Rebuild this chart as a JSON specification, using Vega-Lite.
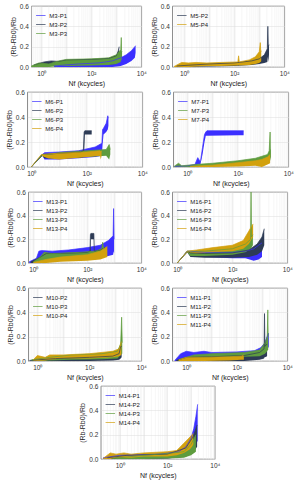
{
"$schema":"https://vega.github.io/schema/vega-lite/v6.json",
"padding":{"left":4,"top":2,"right":2,"bottom":2},
"background":"white",
"config":{
 "font":"Liberation Sans",
 "view":{"stroke":"#5a5a5a","strokeWidth":0.7},
 "axis":{"labelFont":"Liberation Sans","titleFont":"Liberation Sans","labelFontSize":6.5,"titleFontSize":7,"titleFontWeight":"normal","labelColor":"#333","titleColor":"#222","domain":false,"ticks":false,"labelPadding":3,"titlePadding":3,"gridColor":"#dcdcdc","gridWidth":0.5,"labelOverlap":false,"labelFlush":false},
 "legend":{"labelFontSize":6,"labelFont":"Liberation Sans","labelColor":"#222","symbolSize":90,"symbolStrokeWidth":1.2},
 "area":{"opacity":1,"fillOpacity":1},
 "line":{"strokeWidth":0.7}
},
"center":true,
"spacing":1,
"vconcat":[
{"hconcat":[
 {"width":110,"height":61,
  "data":{"values":[
   {"s":"M3-P1","x":3.2,"l":0,"h":0.01},{"s":"M3-P1","x":30,"l":0,"h":0.03},{"s":"M3-P1","x":200,"l":0,"h":0.04},{"s":"M3-P1","x":700,"l":0,"h":0.06},{"s":"M3-P1","x":1500,"l":0.01,"h":0.09},{"s":"M3-P1","x":2500,"l":0.03,"h":0.12},{"s":"M3-P1","x":4000,"l":0.06,"h":0.16},{"s":"M3-P1","x":5500,"l":0.09,"h":0.2},{"s":"M3-P1","x":5900,"l":0.14,"h":0.21},
   {"s":"M3-P2","x":0.5,"l":0,"h":0.02},{"s":"M3-P2","x":1.3,"l":0,"h":0.05},{"s":"M3-P2","x":2.5,"l":0.01,"h":0.06},{"s":"M3-P2","x":5,"l":0.01,"h":0.055},{"s":"M3-P2","x":10,"l":0.02,"h":0.07},{"s":"M3-P2","x":100,"l":0.02,"h":0.075},{"s":"M3-P2","x":500,"l":0.025,"h":0.085},{"s":"M3-P2","x":1000,"l":0.03,"h":0.11},{"s":"M3-P2","x":1200,"l":0.05,"h":0.16},{"s":"M3-P2","x":1300,"l":0.08,"h":0.2},
   {"s":"M3-P3","x":0.4,"l":0,"h":0.01},{"s":"M3-P3","x":0.8,"l":0,"h":0.04},{"s":"M3-P3","x":2,"l":0,"h":0.03},{"s":"M3-P3","x":5,"l":0.01,"h":0.06},{"s":"M3-P3","x":10,"l":0.01,"h":0.075},{"s":"M3-P3","x":100,"l":0.015,"h":0.08},{"s":"M3-P3","x":500,"l":0.02,"h":0.09},{"s":"M3-P3","x":1000,"l":0.03,"h":0.12},{"s":"M3-P3","x":1500,"l":0.05,"h":0.17},{"s":"M3-P3","x":1580,"l":0.1,"h":0.29},{"s":"M3-P3","x":1620,"l":0.06,"h":0.16},{"s":"M3-P3","x":1700,"l":0.08,"h":0.15}
  ]},
  "encoding":{"x":{"field":"x","type":"quantitative","scale":{"type":"log","domain":[0.4,10000],"nice":false},"axis":{"title":"Nf (kcycles)","values":[0.4,0.5,0.6,0.7,0.8,0.9,1,2,3,4,5,6,7,8,9,10,20,30,40,50,60,70,80,90,100,200,300,400,500,600,700,800,900,1000,2000,3000,4000,5000,6000,7000,8000,9000,10000],"labelExpr":"datum.value==1?'10⁰':datum.value==100?'10²':datum.value==10000?'10⁴':''","gridColor":{"condition":{"test":"indexof([1,10,100,1000,10000],datum.value)>=0","value":"#d4d4d4"},"value":"#ececec"}}}},
  "layer":[
   {"mark":"area","encoding":{"y":{"field":"l","type":"quantitative","scale":{"domain":[0,0.6],"nice":false},"axis":{"title":"(Rb-Rb0)/Rb","values":[0,0.2,0.4,0.6]}},"y2":{"field":"h"},
     "fill":{"field":"s","type":"nominal","scale":{"range":["#3b2fff","#2d3b55","#5e9c3e"]},"legend":null}}},
   {"mark":"line","encoding":{"y":{"field":"h","type":"quantitative","scale":{"domain":[0,0.6],"nice":false},"axis":{"title":"(Rb-Rb0)/Rb","values":[0,0.2,0.4,0.6]}},
     "color":{"field":"s","type":"nominal","scale":{"domain":["M3-P1","M3-P2","M3-P3"],"range":["#3b2fff","#2d3b55","#5e9c3e"]},"legend":{"title":null,"orient":"top-left","offset":3,"padding":1,"rowPadding":0,"symbolType":"stroke","labelOffset":3}}}}
  ]},
 {"width":112,"height":61,
  "data":{"values":[
   {"s":"M5-P2","x":0.5,"l":0,"h":0.01},{"s":"M5-P2","x":10,"l":0.005,"h":0.03},{"s":"M5-P2","x":100,"l":0.01,"h":0.04},{"s":"M5-P2","x":500,"l":0.02,"h":0.06},{"s":"M5-P2","x":1000,"l":0.03,"h":0.08},{"s":"M5-P2","x":1600,"l":0.04,"h":0.12},{"s":"M5-P2","x":2100,"l":0.05,"h":0.18},{"s":"M5-P2","x":2200,"l":0.1,"h":0.4},{"s":"M5-P2","x":2300,"l":0.05,"h":0.2},{"s":"M5-P2","x":2450,"l":0.12,"h":0.22},
   {"s":"M5-P4","x":0.4,"l":0,"h":0.005},{"s":"M5-P4","x":0.8,"l":0,"h":0.045},{"s":"M5-P4","x":1.5,"l":0,"h":0.04},{"s":"M5-P4","x":3,"l":0.005,"h":0.045},{"s":"M5-P4","x":8,"l":0.01,"h":0.04},{"s":"M5-P4","x":30,"l":0.01,"h":0.045},{"s":"M5-P4","x":140,"l":0.015,"h":0.05},{"s":"M5-P4","x":150,"l":0.02,"h":0.11},{"s":"M5-P4","x":160,"l":0.015,"h":0.05},{"s":"M5-P4","x":400,"l":0.02,"h":0.07},{"s":"M5-P4","x":700,"l":0.03,"h":0.1},{"s":"M5-P4","x":1000,"l":0.04,"h":0.15},{"s":"M5-P4","x":1100,"l":0.05,"h":0.24},{"s":"M5-P4","x":1150,"l":0.05,"h":0.15},{"s":"M5-P4","x":1200,"l":0.06,"h":0.16}
  ]},
  "encoding":{"x":{"field":"x","type":"quantitative","scale":{"type":"log","domain":[0.34,10000],"nice":false},"axis":{"title":"Nf (kcycles)","values":[0.4,0.5,0.6,0.7,0.8,0.9,1,2,3,4,5,6,7,8,9,10,20,30,40,50,60,70,80,90,100,200,300,400,500,600,700,800,900,1000,2000,3000,4000,5000,6000,7000,8000,9000,10000],"labelExpr":"datum.value==1?'10⁰':datum.value==100?'10²':datum.value==10000?'10⁴':''","gridColor":{"condition":{"test":"indexof([1,10,100,1000,10000],datum.value)>=0","value":"#d4d4d4"},"value":"#ececec"}}}},
  "layer":[
   {"mark":"area","encoding":{"y":{"field":"l","type":"quantitative","scale":{"domain":[0,0.6],"nice":false},"axis":{"title":"(Rb-Rb0)/Rb","values":[0,0.2,0.4,0.6]}},"y2":{"field":"h"},
     "fill":{"field":"s","type":"nominal","scale":{"range":["#2d3b55","#d2a10e"]},"legend":null}}},
   {"mark":"line","encoding":{"y":{"field":"h","type":"quantitative","scale":{"domain":[0,0.6],"nice":false},"axis":{"title":"(Rb-Rb0)/Rb","values":[0,0.2,0.4,0.6]}},
     "color":{"field":"s","type":"nominal","scale":{"domain":["M5-P2","M5-P4"],"range":["#2d3b55","#d2a10e"]},"legend":{"title":null,"orient":"top-left","offset":3,"padding":1,"rowPadding":0,"symbolType":"stroke","labelOffset":3}}}}
  ]}
 ],"spacing":2,"resolve":{"scale":{"fill":"independent","color":"independent"},"legend":{"color":"independent"}}},
{"hconcat":[
 {"width":115,"height":75,
  "data":{"values":[
   {"s":"M6-P1","x":1,"l":0,"h":0},{"s":"M6-P1","x":2.5,"l":0.09,"h":0.1},{"s":"M6-P1","x":3,"l":0.06,"h":0.115},{"s":"M6-P1","x":10,"l":0.06,"h":0.12},{"s":"M6-P1","x":50,"l":0.07,"h":0.13},{"s":"M6-P1","x":200,"l":0.08,"h":0.16},{"s":"M6-P1","x":350,"l":0.09,"h":0.19},{"s":"M6-P1","x":370,"l":0.18,"h":0.3},{"s":"M6-P1","x":400,"l":0.26,"h":0.31},{"s":"M6-P1","x":500,"l":0.28,"h":0.35},{"s":"M6-P1","x":570,"l":0.3,"h":0.41},{"s":"M6-P1","x":600,"l":0.33,"h":0.39},
   {"s":"M6-P2","x":1,"l":0,"h":0},{"s":"M6-P2","x":2.5,"l":0.09,"h":0.1},{"s":"M6-P2","x":3,"l":0.07,"h":0.1},{"s":"M6-P2","x":10,"l":0.07,"h":0.11},{"s":"M6-P2","x":60,"l":0.075,"h":0.12},{"s":"M6-P2","x":75,"l":0.08,"h":0.13},{"s":"M6-P2","x":80,"l":0.1,"h":0.28},{"s":"M6-P2","x":85,"l":0.26,"h":0.29},{"s":"M6-P2","x":130,"l":0.26,"h":0.29},{"s":"M6-P2","x":150,"l":0.26,"h":0.29},
   {"s":"M6-P3","x":1,"l":0,"h":0},{"s":"M6-P3","x":2.5,"l":0.09,"h":0.1},{"s":"M6-P3","x":4,"l":0.07,"h":0.1},{"s":"M6-P3","x":10,"l":0.07,"h":0.115},{"s":"M6-P3","x":100,"l":0.08,"h":0.13},{"s":"M6-P3","x":500,"l":0.09,"h":0.14},{"s":"M6-P3","x":640,"l":0.06,"h":0.18},{"s":"M6-P3","x":700,"l":0.1,"h":0.14},
   {"s":"M6-P4","x":1,"l":0,"h":0},{"s":"M6-P4","x":2.3,"l":0.09,"h":0.1},{"s":"M6-P4","x":4,"l":0.07,"h":0.105},{"s":"M6-P4","x":10,"l":0.06,"h":0.11},{"s":"M6-P4","x":100,"l":0.08,"h":0.12},{"s":"M6-P4","x":300,"l":0.09,"h":0.13},{"s":"M6-P4","x":320,"l":0.06,"h":0.12},{"s":"M6-P4","x":340,"l":0.09,"h":0.13}
  ]},
  "encoding":{"x":{"field":"x","type":"quantitative","scale":{"type":"log","domain":[0.72,10000],"nice":false},"axis":{"title":"Nf (kcycles)","values":[0.8,0.9,1,2,3,4,5,6,7,8,9,10,20,30,40,50,60,70,80,90,100,200,300,400,500,600,700,800,900,1000,2000,3000,4000,5000,6000,7000,8000,9000,10000],"labelExpr":"datum.value==1?'10⁰':datum.value==100?'10²':datum.value==10000?'10⁴':''","gridColor":{"condition":{"test":"indexof([1,10,100,1000,10000],datum.value)>=0","value":"#d4d4d4"},"value":"#ececec"}}}},
  "layer":[
   {"mark":"area","encoding":{"y":{"field":"l","type":"quantitative","scale":{"domain":[0,0.6],"nice":false},"axis":{"title":"(Rb-Rb0)/Rb","values":[0,0.2,0.4,0.6]}},"y2":{"field":"h"},
     "fill":{"field":"s","type":"nominal","scale":{"range":["#3b2fff","#2d3b55","#5e9c3e","#d2a10e"]},"legend":null}}},
   {"mark":"line","encoding":{"y":{"field":"h","type":"quantitative","scale":{"domain":[0,0.6],"nice":false},"axis":{"title":"(Rb-Rb0)/Rb","values":[0,0.2,0.4,0.6]}},
     "color":{"field":"s","type":"nominal","scale":{"domain":["M6-P1","M6-P2","M6-P3","M6-P4"],"range":["#3b2fff","#2d3b55","#5e9c3e","#d2a10e"]},"legend":{"title":null,"orient":"top-left","offset":3,"padding":1,"rowPadding":0,"symbolType":"stroke","labelOffset":3}}}}
  ]},
 {"width":115,"height":75,
  "data":{"values":[
   {"s":"M7-P1","x":0.32,"l":0,"h":0.005},{"s":"M7-P1","x":1,"l":0,"h":0.01},{"s":"M7-P1","x":2,"l":0.005,"h":0.02},{"s":"M7-P1","x":2.6,"l":0.02,"h":0.075},{"s":"M7-P1","x":3.3,"l":0.02,"h":0.04},{"s":"M7-P1","x":4,"l":0.1,"h":0.155},{"s":"M7-P1","x":4.8,"l":0.2,"h":0.26},{"s":"M7-P1","x":5.4,"l":0.25,"h":0.28},{"s":"M7-P1","x":6,"l":0.25,"h":0.29},{"s":"M7-P1","x":100,"l":0.255,"h":0.29},{"s":"M7-P1","x":170,"l":0.255,"h":0.29},
   {"s":"M7-P3","x":0.3,"l":0,"h":0.005},{"s":"M7-P3","x":0.45,"l":0,"h":0.03},{"s":"M7-P3","x":0.6,"l":0,"h":0.01},{"s":"M7-P3","x":2,"l":0,"h":0.02},{"s":"M7-P3","x":10,"l":0.005,"h":0.03},{"s":"M7-P3","x":100,"l":0.01,"h":0.05},{"s":"M7-P3","x":500,"l":0.02,"h":0.07},{"s":"M7-P3","x":1500,"l":0.04,"h":0.1},{"s":"M7-P3","x":1750,"l":0.05,"h":0.13},{"s":"M7-P3","x":1900,"l":0.05,"h":0.28},{"s":"M7-P3","x":1950,"l":0.06,"h":0.14},{"s":"M7-P3","x":2050,"l":0.08,"h":0.14},
   {"s":"M7-P4","x":1.3,"l":0,"h":0.005},{"s":"M7-P4","x":10,"l":0,"h":0.015},{"s":"M7-P4","x":100,"l":0.005,"h":0.035},{"s":"M7-P4","x":500,"l":0.01,"h":0.05},{"s":"M7-P4","x":900,"l":0,"h":0.06},{"s":"M7-P4","x":1500,"l":0.02,"h":0.08},{"s":"M7-P4","x":1900,"l":0.03,"h":0.1}
  ]},
  "encoding":{"x":{"field":"x","type":"quantitative","scale":{"type":"log","domain":[0.28,10000],"nice":false},"axis":{"title":"Nf (kcycles)","values":[0.3,0.4,0.5,0.6,0.7,0.8,0.9,1,2,3,4,5,6,7,8,9,10,20,30,40,50,60,70,80,90,100,200,300,400,500,600,700,800,900,1000,2000,3000,4000,5000,6000,7000,8000,9000,10000],"labelExpr":"datum.value==1?'10⁰':datum.value==100?'10²':datum.value==10000?'10⁴':''","gridColor":{"condition":{"test":"indexof([1,10,100,1000,10000],datum.value)>=0","value":"#d4d4d4"},"value":"#ececec"}}}},
  "layer":[
   {"mark":"area","encoding":{"y":{"field":"l","type":"quantitative","scale":{"domain":[0,0.6],"nice":false},"axis":{"title":"(Rb-Rb0)/Rb","values":[0,0.2,0.4,0.6]}},"y2":{"field":"h"},
     "fill":{"field":"s","type":"nominal","scale":{"range":["#3b2fff","#5e9c3e","#d2a10e"]},"legend":null}}},
   {"mark":"line","encoding":{"y":{"field":"h","type":"quantitative","scale":{"domain":[0,0.6],"nice":false},"axis":{"title":"(Rb-Rb0)/Rb","values":[0,0.2,0.4,0.6]}},
     "color":{"field":"s","type":"nominal","scale":{"domain":["M7-P1","M7-P3","M7-P4"],"range":["#3b2fff","#5e9c3e","#d2a10e"]},"legend":{"title":null,"orient":"top-left","offset":3,"padding":1,"rowPadding":0,"symbolType":"stroke","labelOffset":3}}}}
  ]}
 ],"spacing":2,"resolve":{"scale":{"fill":"independent","color":"independent"},"legend":{"color":"independent"}}},
{"hconcat":[
 {"width":113,"height":71,
  "data":{"values":[
   {"s":"M13-P1","x":0.7,"l":0,"h":0.01},{"s":"M13-P1","x":1.3,"l":0,"h":0.04},{"s":"M13-P1","x":1.6,"l":0.02,"h":0.1},{"s":"M13-P1","x":2,"l":0.03,"h":0.105},{"s":"M13-P1","x":5,"l":0.04,"h":0.1},{"s":"M13-P1","x":20,"l":0.04,"h":0.11},{"s":"M13-P1","x":100,"l":0.045,"h":0.13},{"s":"M13-P1","x":300,"l":0.05,"h":0.15},{"s":"M13-P1","x":600,"l":0.06,"h":0.19},{"s":"M13-P1","x":900,"l":0.07,"h":0.23},{"s":"M13-P1","x":940,"l":0.1,"h":0.46},{"s":"M13-P1","x":980,"l":0.08,"h":0.2},
   {"s":"M13-P2","x":0.8,"l":0,"h":0.01},{"s":"M13-P2","x":1.5,"l":0,"h":0.04},{"s":"M13-P2","x":3,"l":0.02,"h":0.08},{"s":"M13-P2","x":10,"l":0.03,"h":0.08},{"s":"M13-P2","x":100,"l":0.035,"h":0.09},{"s":"M13-P2","x":125,"l":0.04,"h":0.1},{"s":"M13-P2","x":130,"l":0.05,"h":0.24},{"s":"M13-P2","x":135,"l":0.2,"h":0.25},{"s":"M13-P2","x":175,"l":0.2,"h":0.25},{"s":"M13-P2","x":180,"l":0.04,"h":0.1},{"s":"M13-P2","x":300,"l":0.05,"h":0.11},{"s":"M13-P2","x":450,"l":0.06,"h":0.13},
   {"s":"M13-P3","x":1,"l":0,"h":0.01},{"s":"M13-P3","x":1.8,"l":0,"h":0.05},{"s":"M13-P3","x":2.5,"l":0.02,"h":0.09},{"s":"M13-P3","x":5,"l":0.03,"h":0.08},{"s":"M13-P3","x":50,"l":0.03,"h":0.09},{"s":"M13-P3","x":200,"l":0.04,"h":0.1},{"s":"M13-P3","x":340,"l":0.04,"h":0.12},{"s":"M13-P3","x":370,"l":0.05,"h":0.175},{"s":"M13-P3","x":400,"l":0.05,"h":0.12},{"s":"M13-P3","x":480,"l":0.06,"h":0.13},
   {"s":"M13-P4","x":1,"l":0,"h":0.005},{"s":"M13-P4","x":3,"l":0,"h":0.03},{"s":"M13-P4","x":10,"l":0.01,"h":0.05},{"s":"M13-P4","x":100,"l":0.02,"h":0.07},{"s":"M13-P4","x":300,"l":0.03,"h":0.1},{"s":"M13-P4","x":550,"l":0.05,"h":0.14}
  ]},
  "encoding":{"x":{"field":"x","type":"quantitative","scale":{"type":"log","domain":[0.65,10000],"nice":false},"axis":{"title":"Nf (kcycles)","values":[0.7,0.8,0.9,1,2,3,4,5,6,7,8,9,10,20,30,40,50,60,70,80,90,100,200,300,400,500,600,700,800,900,1000,2000,3000,4000,5000,6000,7000,8000,9000,10000],"labelExpr":"datum.value==1?'10⁰':datum.value==100?'10²':datum.value==10000?'10⁴':''","gridColor":{"condition":{"test":"indexof([1,10,100,1000,10000],datum.value)>=0","value":"#d4d4d4"},"value":"#ececec"}}}},
  "layer":[
   {"mark":"area","encoding":{"y":{"field":"l","type":"quantitative","scale":{"domain":[0,0.6],"nice":false},"axis":{"title":"(Rb-Rb0)/Rb","values":[0,0.2,0.4,0.6]}},"y2":{"field":"h"},
     "fill":{"field":"s","type":"nominal","scale":{"range":["#3b2fff","#2d3b55","#5e9c3e","#d2a10e"]},"legend":null}}},
   {"mark":"line","encoding":{"y":{"field":"h","type":"quantitative","scale":{"domain":[0,0.6],"nice":false},"axis":{"title":"(Rb-Rb0)/Rb","values":[0,0.2,0.4,0.6]}},
     "color":{"field":"s","type":"nominal","scale":{"domain":["M13-P1","M13-P2","M13-P3","M13-P4"],"range":["#3b2fff","#2d3b55","#5e9c3e","#d2a10e"]},"legend":{"title":null,"orient":"top-left","offset":3,"padding":1,"rowPadding":0,"symbolType":"stroke","labelOffset":3}}}}
  ]},
 {"width":115,"height":71,
  "data":{"values":[
   {"s":"M16-P1","x":1,"l":0,"h":0},{"s":"M16-P1","x":2.3,"l":0.09,"h":0.1},{"s":"M16-P1","x":3,"l":0.06,"h":0.1},{"s":"M16-P1","x":10,"l":0.05,"h":0.09},{"s":"M16-P1","x":100,"l":0.04,"h":0.09},{"s":"M16-P1","x":300,"l":0.04,"h":0.1},{"s":"M16-P1","x":600,"l":0.02,"h":0.12},{"s":"M16-P1","x":900,"l":0.03,"h":0.15},{"s":"M16-P1","x":1200,"l":0.05,"h":0.17},
   {"s":"M16-P2","x":1,"l":0,"h":0},{"s":"M16-P2","x":2.3,"l":0.09,"h":0.1},{"s":"M16-P2","x":3,"l":0.05,"h":0.085},{"s":"M16-P2","x":10,"l":0.045,"h":0.08},{"s":"M16-P2","x":100,"l":0.045,"h":0.085},{"s":"M16-P2","x":400,"l":0.05,"h":0.11},{"s":"M16-P2","x":800,"l":0.07,"h":0.16},{"s":"M16-P2","x":1200,"l":0.1,"h":0.22},{"s":"M16-P2","x":1450,"l":0.15,"h":0.29},
   {"s":"M16-P3","x":1,"l":0,"h":0},{"s":"M16-P3","x":2.3,"l":0.09,"h":0.1},{"s":"M16-P3","x":3,"l":0.06,"h":0.1},{"s":"M16-P3","x":10,"l":0.06,"h":0.1},{"s":"M16-P3","x":100,"l":0.07,"h":0.12},{"s":"M16-P3","x":300,"l":0.09,"h":0.16},{"s":"M16-P3","x":460,"l":0.12,"h":0.2},{"s":"M16-P3","x":480,"l":0.12,"h":0.6},{"s":"M16-P3","x":500,"l":0.13,"h":0.22},{"s":"M16-P3","x":560,"l":0.15,"h":0.24},
   {"s":"M16-P4","x":1,"l":0,"h":0},{"s":"M16-P4","x":2.3,"l":0.09,"h":0.1},{"s":"M16-P4","x":5,"l":0.08,"h":0.11},{"s":"M16-P4","x":20,"l":0.09,"h":0.13},{"s":"M16-P4","x":100,"l":0.1,"h":0.15},{"s":"M16-P4","x":250,"l":0.12,"h":0.19},{"s":"M16-P4","x":400,"l":0.16,"h":0.27},{"s":"M16-P4","x":500,"l":0.2,"h":0.31},{"s":"M16-P4","x":570,"l":0.22,"h":0.33}
  ]},
  "encoding":{"x":{"field":"x","type":"quantitative","scale":{"type":"log","domain":[0.66,10000],"nice":false},"axis":{"title":"Nf (kcycles)","values":[0.7,0.8,0.9,1,2,3,4,5,6,7,8,9,10,20,30,40,50,60,70,80,90,100,200,300,400,500,600,700,800,900,1000,2000,3000,4000,5000,6000,7000,8000,9000,10000],"labelExpr":"datum.value==1?'10⁰':datum.value==100?'10²':datum.value==10000?'10⁴':''","gridColor":{"condition":{"test":"indexof([1,10,100,1000,10000],datum.value)>=0","value":"#d4d4d4"},"value":"#ececec"}}}},
  "layer":[
   {"mark":"area","encoding":{"y":{"field":"l","type":"quantitative","scale":{"domain":[0,0.6],"nice":false},"axis":{"title":"(Rb-Rb0)/Rb","values":[0,0.2,0.4,0.6]}},"y2":{"field":"h"},
     "fill":{"field":"s","type":"nominal","scale":{"range":["#3b2fff","#2d3b55","#5e9c3e","#d2a10e"]},"legend":null}}},
   {"mark":"line","encoding":{"y":{"field":"h","type":"quantitative","scale":{"domain":[0,0.6],"nice":false},"axis":{"title":"(Rb-Rb0)/Rb","values":[0,0.2,0.4,0.6]}},
     "color":{"field":"s","type":"nominal","scale":{"domain":["M16-P1","M16-P2","M16-P3","M16-P4"],"range":["#3b2fff","#2d3b55","#5e9c3e","#d2a10e"]},"legend":{"title":null,"orient":"top-left","offset":3,"padding":1,"rowPadding":0,"symbolType":"stroke","labelOffset":3}}}}
  ]}
 ],"spacing":2,"resolve":{"scale":{"fill":"independent","color":"independent"},"legend":{"color":"independent"}}},
{"hconcat":[
 {"width":113,"height":73,
  "data":{"values":[
   {"s":"M10-P2","x":0.5,"l":0,"h":0.005},{"s":"M10-P2","x":5,"l":0,"h":0.02},{"s":"M10-P2","x":100,"l":0,"h":0.03},{"s":"M10-P2","x":800,"l":0.005,"h":0.04},{"s":"M10-P2","x":1400,"l":0.01,"h":0.06},{"s":"M10-P2","x":1600,"l":0.02,"h":0.12},{"s":"M10-P2","x":1750,"l":0.03,"h":0.12},
   {"s":"M10-P3","x":0.6,"l":0,"h":0.01},{"s":"M10-P3","x":3,"l":0.005,"h":0.03},{"s":"M10-P3","x":20,"l":0.01,"h":0.05},{"s":"M10-P3","x":300,"l":0.015,"h":0.06},{"s":"M10-P3","x":1200,"l":0.02,"h":0.08},{"s":"M10-P3","x":1600,"l":0.05,"h":0.14},{"s":"M10-P3","x":1750,"l":0.06,"h":0.36},{"s":"M10-P3","x":1850,"l":0.06,"h":0.15},
   {"s":"M10-P4","x":0.7,"l":0,"h":0.01},{"s":"M10-P4","x":1,"l":0,"h":0.045},{"s":"M10-P4","x":2,"l":0.005,"h":0.03},{"s":"M10-P4","x":3,"l":0.01,"h":0.05},{"s":"M10-P4","x":10,"l":0.02,"h":0.05},{"s":"M10-P4","x":100,"l":0.02,"h":0.06},{"s":"M10-P4","x":800,"l":0.03,"h":0.08},{"s":"M10-P4","x":1400,"l":0.04,"h":0.1},{"s":"M10-P4","x":1700,"l":0.05,"h":0.16}
  ]},
  "encoding":{"x":{"field":"x","type":"quantitative","scale":{"type":"log","domain":[0.45,10000],"nice":false},"axis":{"title":"Nf (kcycles)","values":[0.5,0.6,0.7,0.8,0.9,1,2,3,4,5,6,7,8,9,10,20,30,40,50,60,70,80,90,100,200,300,400,500,600,700,800,900,1000,2000,3000,4000,5000,6000,7000,8000,9000,10000],"labelExpr":"datum.value==1?'10⁰':datum.value==100?'10²':datum.value==10000?'10⁴':''","gridColor":{"condition":{"test":"indexof([1,10,100,1000,10000],datum.value)>=0","value":"#d4d4d4"},"value":"#ececec"}}}},
  "layer":[
   {"mark":"area","encoding":{"y":{"field":"l","type":"quantitative","scale":{"domain":[0,0.6],"nice":false},"axis":{"title":"(Rb-Rb0)/Rb","values":[0,0.2,0.4,0.6]}},"y2":{"field":"h"},
     "fill":{"field":"s","type":"nominal","scale":{"range":["#2d3b55","#5e9c3e","#d2a10e"]},"legend":null}}},
   {"mark":"line","encoding":{"y":{"field":"h","type":"quantitative","scale":{"domain":[0,0.6],"nice":false},"axis":{"title":"(Rb-Rb0)/Rb","values":[0,0.2,0.4,0.6]}},
     "color":{"field":"s","type":"nominal","scale":{"domain":["M10-P2","M10-P3","M10-P4"],"range":["#2d3b55","#5e9c3e","#d2a10e"]},"legend":{"title":null,"orient":"top-left","offset":3,"padding":1,"rowPadding":0,"symbolType":"stroke","labelOffset":3}}}}
  ]},
 {"width":115,"height":73,
  "data":{"values":[
   {"s":"M11-P1","x":0.35,"l":0,"h":0.005},{"s":"M11-P1","x":0.6,"l":0,"h":0.06},{"s":"M11-P1","x":1,"l":0,"h":0.08},{"s":"M11-P1","x":2,"l":0.01,"h":0.07},{"s":"M11-P1","x":5,"l":0.02,"h":0.08},{"s":"M11-P1","x":10,"l":0.04,"h":0.07},{"s":"M11-P1","x":100,"l":0.045,"h":0.075},{"s":"M11-P1","x":500,"l":0.05,"h":0.085},{"s":"M11-P1","x":900,"l":0.06,"h":0.11},{"s":"M11-P1","x":1300,"l":0.08,"h":0.15},{"s":"M11-P1","x":1700,"l":0.1,"h":0.22},{"s":"M11-P1","x":1850,"l":0.12,"h":0.23},
   {"s":"M11-P2","x":0.4,"l":0,"h":0.005},{"s":"M11-P2","x":1,"l":0,"h":0.03},{"s":"M11-P2","x":10,"l":0,"h":0.035},{"s":"M11-P2","x":200,"l":0,"h":0.045},{"s":"M11-P2","x":800,"l":0.01,"h":0.07},{"s":"M11-P2","x":1200,"l":0.02,"h":0.1},{"s":"M11-P2","x":1250,"l":0.03,"h":0.39},{"s":"M11-P2","x":1300,"l":0.03,"h":0.12},{"s":"M11-P2","x":1580,"l":0.04,"h":0.14},
   {"s":"M11-P3","x":0.5,"l":0,"h":0.01},{"s":"M11-P3","x":2,"l":0.01,"h":0.05},{"s":"M11-P3","x":10,"l":0.03,"h":0.06},{"s":"M11-P3","x":200,"l":0.035,"h":0.07},{"s":"M11-P3","x":800,"l":0.04,"h":0.09},{"s":"M11-P3","x":1300,"l":0.06,"h":0.15},{"s":"M11-P3","x":1600,"l":0.08,"h":0.2},{"s":"M11-P3","x":1690,"l":0.09,"h":0.42},{"s":"M11-P3","x":1750,"l":0.09,"h":0.2},
   {"s":"M11-P4","x":0.5,"l":0,"h":0.01},{"s":"M11-P4","x":1,"l":0,"h":0.03},{"s":"M11-P4","x":5,"l":0,"h":0.03},{"s":"M11-P4","x":50,"l":0.005,"h":0.035},{"s":"M11-P4","x":150,"l":0.01,"h":0.04},{"s":"M11-P4","x":190,"l":0.01,"h":0.05}
  ]},
  "encoding":{"x":{"field":"x","type":"quantitative","scale":{"type":"log","domain":[0.28,10000],"nice":false},"axis":{"title":"Nf (kcycles)","values":[0.3,0.4,0.5,0.6,0.7,0.8,0.9,1,2,3,4,5,6,7,8,9,10,20,30,40,50,60,70,80,90,100,200,300,400,500,600,700,800,900,1000,2000,3000,4000,5000,6000,7000,8000,9000,10000],"labelExpr":"datum.value==1?'10⁰':datum.value==100?'10²':datum.value==10000?'10⁴':''","gridColor":{"condition":{"test":"indexof([1,10,100,1000,10000],datum.value)>=0","value":"#d4d4d4"},"value":"#ececec"}}}},
  "layer":[
   {"mark":"area","encoding":{"y":{"field":"l","type":"quantitative","scale":{"domain":[0,0.6],"nice":false},"axis":{"title":"(Rb-Rb0)/Rb","values":[0,0.2,0.4,0.6]}},"y2":{"field":"h"},
     "fill":{"field":"s","type":"nominal","scale":{"range":["#3b2fff","#2d3b55","#5e9c3e","#d2a10e"]},"legend":null}}},
   {"mark":"line","encoding":{"y":{"field":"h","type":"quantitative","scale":{"domain":[0,0.6],"nice":false},"axis":{"title":"(Rb-Rb0)/Rb","values":[0,0.2,0.4,0.6]}},
     "color":{"field":"s","type":"nominal","scale":{"domain":["M11-P1","M11-P2","M11-P3","M11-P4"],"range":["#3b2fff","#2d3b55","#5e9c3e","#d2a10e"]},"legend":{"title":null,"orient":"top-left","offset":3,"padding":1,"rowPadding":0,"symbolType":"stroke","labelOffset":3}}}}
  ]}
 ],"spacing":2,"resolve":{"scale":{"fill":"independent","color":"independent"},"legend":{"color":"independent"}}},
 {"width":114,"height":73,
  "data":{"values":[
   {"s":"M14-P1","x":0.2,"l":0,"h":0.01},{"s":"M14-P1","x":1,"l":0,"h":0.03},{"s":"M14-P1","x":50,"l":0.005,"h":0.04},{"s":"M14-P1","x":300,"l":0.01,"h":0.06},{"s":"M14-P1","x":600,"l":0.02,"h":0.1},{"s":"M14-P1","x":1000,"l":0.05,"h":0.17},{"s":"M14-P1","x":1300,"l":0.08,"h":0.25},{"s":"M14-P1","x":1600,"l":0.12,"h":0.35},{"s":"M14-P1","x":1900,"l":0.15,"h":0.45},
   {"s":"M14-P2","x":0.3,"l":0,"h":0.01},{"s":"M14-P2","x":2,"l":0,"h":0.03},{"s":"M14-P2","x":100,"l":0.005,"h":0.04},{"s":"M14-P2","x":600,"l":0.02,"h":0.09},{"s":"M14-P2","x":1200,"l":0.05,"h":0.18},{"s":"M14-P2","x":1800,"l":0.1,"h":0.28},
   {"s":"M14-P3","x":0.5,"l":0,"h":0.005},{"s":"M14-P3","x":10,"l":0,"h":0.03},{"s":"M14-P3","x":100,"l":0.005,"h":0.045},{"s":"M14-P3","x":500,"l":0.01,"h":0.06},{"s":"M14-P3","x":1000,"l":0.03,"h":0.12},{"s":"M14-P3","x":1600,"l":0.06,"h":0.2},
   {"s":"M14-P4","x":0.2,"l":0,"h":0.005},{"s":"M14-P4","x":0.4,"l":0,"h":0.05},{"s":"M14-P4","x":0.7,"l":0.01,"h":0.04},{"s":"M14-P4","x":1.5,"l":0.01,"h":0.05},{"s":"M14-P4","x":3,"l":0.01,"h":0.04},{"s":"M14-P4","x":10,"l":0.02,"h":0.05},{"s":"M14-P4","x":100,"l":0.02,"h":0.06},{"s":"M14-P4","x":250,"l":0.03,"h":0.07},{"s":"M14-P4","x":500,"l":0.05,"h":0.13},{"s":"M14-P4","x":900,"l":0.08,"h":0.18},{"s":"M14-P4","x":1100,"l":0.1,"h":0.2},{"s":"M14-P4","x":1250,"l":0.12,"h":0.21}
  ]},
  "encoding":{"x":{"field":"x","type":"quantitative","scale":{"type":"log","domain":[0.16,10000],"nice":false},"axis":{"title":"Nf (kcycles)","values":[0.2,0.3,0.4,0.5,0.6,0.7,0.8,0.9,1,2,3,4,5,6,7,8,9,10,20,30,40,50,60,70,80,90,100,200,300,400,500,600,700,800,900,1000,2000,3000,4000,5000,6000,7000,8000,9000,10000],"labelExpr":"datum.value==1?'10⁰':datum.value==100?'10²':datum.value==10000?'10⁴':''","gridColor":{"condition":{"test":"indexof([1,10,100,1000,10000],datum.value)>=0","value":"#d4d4d4"},"value":"#ececec"}}}},
  "layer":[
   {"mark":"area","encoding":{"y":{"field":"l","type":"quantitative","scale":{"domain":[0,0.6],"nice":false},"axis":{"title":"(Rb-Rb0)/Rb","values":[0,0.2,0.4,0.6]}},"y2":{"field":"h"},
     "fill":{"field":"s","type":"nominal","scale":{"range":["#3b2fff","#2d3b55","#5e9c3e","#d2a10e"]},"legend":null}}},
   {"mark":"line","encoding":{"y":{"field":"h","type":"quantitative","scale":{"domain":[0,0.6],"nice":false},"axis":{"title":"(Rb-Rb0)/Rb","values":[0,0.2,0.4,0.6]}},
     "color":{"field":"s","type":"nominal","scale":{"domain":["M14-P1","M14-P2","M14-P3","M14-P4"],"range":["#3b2fff","#2d3b55","#5e9c3e","#d2a10e"]},"legend":{"title":null,"orient":"top-left","offset":3,"padding":1,"rowPadding":0,"symbolType":"stroke","labelOffset":3}}}}
  ]}
],
"resolve":{"scale":{"fill":"independent","color":"independent","x":"independent","y":"independent"},"legend":{"color":"independent"}}
}
